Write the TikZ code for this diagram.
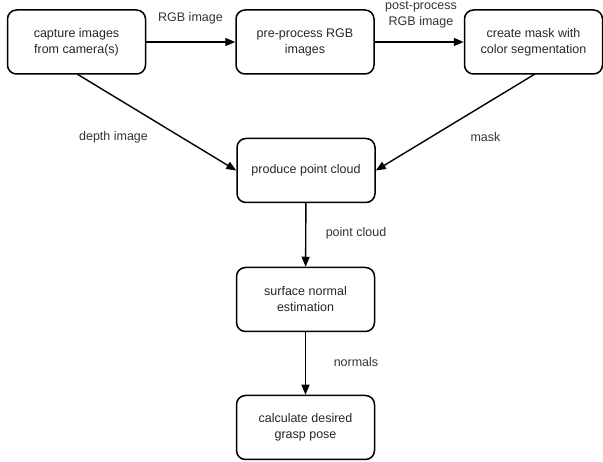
\documentclass[tikz,border=0pt]{standalone}
\usepackage{fontspec}
\setmainfont{Liberation Sans}
\usetikzlibrary{arrows.meta}
\begin{document}
\begin{tikzpicture}[x=1pt,y=-1pt,
  stepbox/.style={draw, line width=1.5pt, rounded corners=9pt, minimum width=138pt, minimum height=64pt,
    align=center, inner sep=0pt, font=\fontsize{12.5}{16}\selectfont, text=black!85},
  lbl/.style={align=center, inner sep=0pt, font=\fontsize{12.5}{16}\selectfont, text=black!80},
  conn/.style={line width=1.4pt, -{Triangle[length=10pt,width=8pt]}}]
\useasboundingbox (0,0) rectangle (603,462);
\node[stepbox] (cap) at (76.5,42) {capture images\\from camera(s)};
\node[stepbox] (pre) at (305,42) {pre-process RGB\\images};
\node[stepbox] (mask) at (533.5,42) {create mask with\\color segmentation};
\node[stepbox] (pc) at (306,170.5) {produce point cloud};
\node[stepbox] (sn) at (305.5,299.5) {surface normal\\estimation};
\node[stepbox] (gp) at (305.5,427.5) {calculate desired\\grasp pose};
\coordinate (capout) at (77,74);
\coordinate (maskout) at (535,74);
\draw[conn] (cap) -- (pre);
\draw[conn] (pre) -- (mask);
\draw[conn] (capout) -- (pc.west);
\draw[conn] (maskout) -- (pc.east);
\draw[conn] (pc) -- (sn);
\draw[conn] (sn) -- (gp);
\node[lbl] (l1) at (190.5,18) {RGB image};
\node[lbl] (l2) at (421,15) {post-process\\RGB image};
\node[lbl] (l3) at (113.5,137) {depth image};
\node[lbl] (l4) at (485.5,137) {mask};
\node[lbl] (l5) at (356,233) {point cloud};
\node[lbl] (l6) at (356,362) {normals};
\end{tikzpicture}
\end{document}
